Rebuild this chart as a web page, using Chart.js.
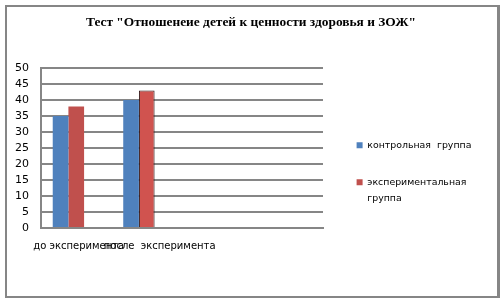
<!DOCTYPE html>
<html>
<head>
<meta charset="utf-8">
<script src="https://cdn.jsdelivr.net/npm/chart.js@4"></script>
<style>
  html, body { margin: 0; padding: 0; background: #fff; }
  #wrap { position: relative; width: 502px; height: 301px; }
  #wrap canvas { position: absolute; left: 0; top: 0; }
  #frame {
    position: absolute; left: 5px; top: 5px; width: 495px; height: 293px;
    box-sizing: border-box; border: 2px solid #868686; border-right-width: 3px;
    pointer-events: none;
  }
</style>
</head>
<body>
<div id="wrap">
  <canvas id="chart" width="502" height="301"></canvas>
  <div id="frame"></div>
</div>
<script>
// Survey results before and after the experiment
const categories = ['до эксперимента', 'после  эксперимента', '', ''];
const controlGroup = [35, 40, null, null];
const experimentalGroup = [38, 43, null, null];
const controlLabel = 'контрольная  группа';
const experimentalLabel = ['экспериментальная', 'группа'];
const chartTitle = 'Тест "Отношенеие детей к ценности здоровья и ЗОЖ"';
const yMin = 0;
const yMax = 50;
const yStep = 5;

const GRID = '#868686';
const SANS = 'DejaVu Sans';
const LEGEND_SIZE = 9.4;
const LEGEND_PAD = 27.6;
const LEGEND_LEFT = 329;

// width of the legend column, so that it starts at LEGEND_LEFT
const probe = document.createElement('canvas').getContext('2d');
probe.font = LEGEND_SIZE + 'px "' + SANS + '"';
const longest = Math.max(
  probe.measureText(controlLabel).width,
  ...experimentalLabel.map((t) => probe.measureText(t).width)
);
const legendWidth = LEGEND_PAD + 6 + LEGEND_SIZE / 2 + longest + 10;
const rightPad = Math.max(0, 502 - LEGEND_LEFT - legendWidth);

// centre the title over the whole canvas rather than the padded area
const fullWidthTitle = {
  id: 'fullWidthTitle',
  afterLayout(chart) {
    if (chart.titleBlock) {
      chart.titleBlock.left = 0;
      chart.titleBlock.right = chart.width;
      chart.titleBlock.width = chart.width;
    }
  }
};

new Chart(document.getElementById('chart'), {
  type: 'bar',
  data: {
    labels: categories,
    datasets: [
      {
        label: controlLabel,
        data: controlGroup,
        backgroundColor: '#4f81bd',
        borderWidth: 0
      },
      {
        label: experimentalLabel,
        data: experimentalGroup,
        backgroundColor: ['#c0504d', '#d0534f'],
        borderColor: '#2a1414',
        borderWidth: (ctx) => (ctx.dataIndex === 1 ? 1 : 0)
      },
      {
        // third, empty slot of the group
        label: '',
        data: [],
        backgroundColor: 'transparent'
      }
    ]
  },
  plugins: [fullWidthTitle],
  options: {
    responsive: false,
    animation: false,
    devicePixelRatio: 1,
    layout: { padding: { top: 15, left: 10, right: rightPad, bottom: 20 } },
    datasets: {
      bar: { barPercentage: 1.0, categoryPercentage: 0.667 }
    },
    plugins: {
      title: {
        display: true,
        text: chartTitle,
        color: '#000',
        font: { family: 'Liberation Serif', size: 13.4, weight: 'bold' },
        padding: { top: 0, bottom: 37 }
      },
      legend: {
        position: 'right',
        align: 'center',
        maxWidth: Math.ceil(legendWidth) + 1,
        // blank heading, used only to push the entries down
        title: {
          display: true,
          text: '',
          font: { family: SANS, size: 10, lineHeight: 1 },
          padding: { top: 44, bottom: 0 }
        },
        labels: {
          boxWidth: 6,
          boxHeight: 6,
          padding: LEGEND_PAD,
          color: '#000',
          font: { family: SANS, size: LEGEND_SIZE, lineHeight: 1.7 },
          filter: (item) => item.text !== ''
        }
      },
      tooltip: { enabled: false }
    },
    scales: {
      x: {
        type: 'category',
        grid: { display: false, drawTicks: false },
        border: { display: true, color: GRID, width: 2 },
        ticks: {
          color: '#000',
          font: { family: SANS, size: 10 },
          padding: 12,
          align: 'start',
          labelOffset: -43,
          maxRotation: 0,
          autoSkip: false
        },
        afterFit: (s) => { s.height = 53; }
      },
      y: {
        min: yMin,
        max: yMax,
        grid: { color: GRID, lineWidth: 2, drawTicks: false },
        border: { display: true, color: GRID, width: 2 },
        ticks: {
          stepSize: yStep,
          autoSkip: false,
          color: '#000',
          font: { family: SANS, size: 11 },
          padding: 12
        },
        afterFit: (s) => { s.width = 31; }
      },
      gap: {
        type: 'linear',
        position: 'right',
        display: true,
        grid: { display: false, drawTicks: false },
        border: { display: false },
        ticks: { display: false },
        afterFit: (s) => { s.width = 6; }
      }
    }
  }
});
</script>
</body>
</html>
